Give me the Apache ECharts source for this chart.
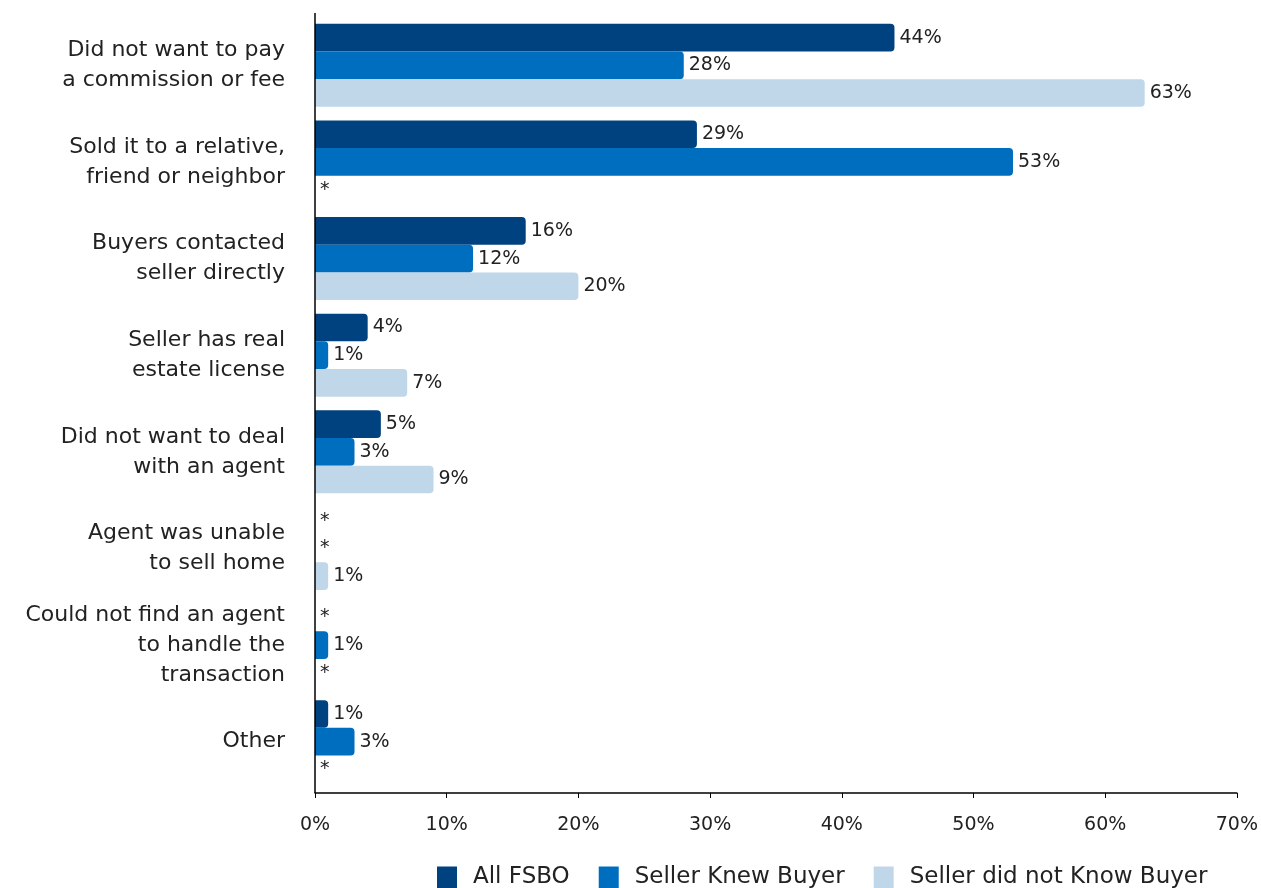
<!DOCTYPE html>
<html><head><meta charset="utf-8">
<script src="https://cdn.jsdelivr.net/npm/echarts@6/dist/echarts.min.js"></script>
<style>html,body{margin:0;padding:0;background:#fff}#c{width:1261px;height:888px}</style>
</head><body><div id="c"></div>
<script>
const categories = [
  "Did not want to pay\na commission or fee",
  "Sold it to a relative,\nfriend or neighbor",
  "Buyers contacted\nseller directly",
  "Seller has real\nestate license",
  "Did not want to deal\nwith an agent",
  "Agent was unable\nto sell home",
  "Could not find an agent\nto handle the\ntransaction",
  "Other"
];
const seriesNames = ["All FSBO", "Seller Knew Buyer", "Seller did not Know Buyer"];
const allFsbo = [44, 29, 16, 4, 5, null, null, 1];
const sellerKnew = [28, 53, 12, 1, 3, null, 1, 3];
const sellerNotKnew = [63, null, 20, 7, 9, 1, null, null];
const xTicks = [0, 10, 20, 30, 40, 50, 60, 70];
const colors = ["#00427F", "#006EBE", "#C0D7EA"];

const FONT = "DejaVu Sans";
const TXT = "#222";

function toData(arr) {
  return arr.map(v => v === null
    ? { value: 0, label: { formatter: "*" } }
    : v);
}
const seriesData = [allFsbo, sellerKnew, sellerNotKnew];

const chart = echarts.init(document.getElementById('c'));
chart.setOption({
  animation: false,
  textStyle: { fontFamily: FONT },
  grid: { left: 315, right: 24, top: 17, bottom: 98, containLabel: false },
  graphic: [{
    type: 'line', z: 10,
    shape: { x1: 315, y1: 13, x2: 315, y2: 793 },
    style: { stroke: '#000', lineWidth: 1.5 }
  }],
  legend: {
    data: seriesNames,
    left: 437, top: 866, padding: 0,
    itemWidth: 20, itemHeight: 22, itemGap: 29,
    icon: 'rect',
    textStyle: { fontFamily: FONT, fontSize: 23, color: TXT, padding: [0, 0, 0, 11] }
  },
  xAxis: {
    type: 'value', min: xTicks[0], max: xTicks[xTicks.length - 1], interval: 10,
    offset: 3,
    axisLine: { show: true, lineStyle: { color: '#000', width: 1.5 } },
    axisTick: { show: true, length: 5, lineStyle: { color: '#000' } },
    splitLine: { show: false },
    axisLabel: { formatter: '{value}%', fontSize: 19, color: TXT, margin: 23, fontFamily: FONT }
  },
  yAxis: {
    type: 'category', data: categories, inverse: true,
    axisLine: { show: false },
    axisTick: { show: false },
    axisLabel: { fontSize: 22, color: TXT, margin: 30, lineHeight: 30, align: 'right', fontFamily: FONT }
  },
  series: seriesNames.map((n, i) => ({
    name: n, type: 'bar',
    data: toData(seriesData[i]),
    barGap: '0%', barCategoryGap: '14%',
    itemStyle: { color: colors[i], borderRadius: [0, 4, 4, 0] },
    label: { show: true, position: 'right', distance: 5, formatter: '{c}%', fontSize: 19, color: TXT, fontFamily: FONT }
  }))
});
</script></body></html>
